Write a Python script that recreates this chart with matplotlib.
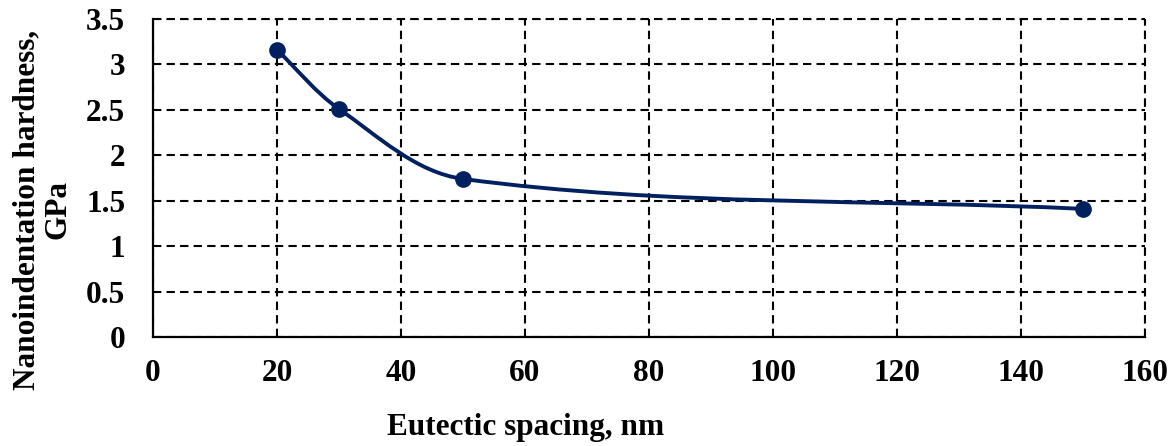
import numpy as np
import matplotlib.pyplot as plt
from matplotlib.path import Path
from matplotlib.patches import PathPatch

# data
spacing = [20, 30, 50, 150]
hardness = [3.16, 2.51, 1.74, 1.41]

x_ticks = [0, 20, 40, 60, 80, 100, 120, 140, 160]
y_ticks = [0, 0.5, 1, 1.5, 2, 2.5, 3, 3.5]
y_labels = ['0', '0.5', '1', '1.5', '2', '2.5', '3', '3.5']

navy = '#002060'
plt.rcParams['font.family'] = ['Liberation Serif', 'DejaVu Serif']
plt.rcParams['font.weight'] = 'bold'
fs = 22.5


def smooth_path(ax, xs, ys):
    # Excel-like smoothed line: cubic Bezier segments, built in screen space
    pts = ax.transData.transform(np.column_stack([xs, ys]))
    n = len(pts)
    verts = [pts[0]]
    codes = [Path.MOVETO]
    for i in range(n - 1):
        p0, p1 = pts[max(i - 1, 0)], pts[i]
        p2, p3 = pts[i + 1], pts[min(i + 2, n - 1)]
        seg = np.linalg.norm(p2 - p1)
        t1 = (p2 - p0) / np.linalg.norm(p2 - p0)
        t2 = (p3 - p1) / np.linalg.norm(p3 - p1)
        verts += [p1 + t1 * seg / 3, p2 - t2 * seg / 3, p2]
        codes += [Path.CURVE4] * 3
    verts = ax.transData.inverted().transform(np.array(verts))
    return Path(verts, codes)


fig = plt.figure(figsize=(11.73, 4.46), dpi=100)
ax = fig.add_axes([153 / 1173, 1 - 337 / 446, (1145 - 153) / 1173, (337 - 19) / 446])
ax.set_xlim(0, 160)
ax.set_ylim(0, 3.5)

ax.add_patch(PathPatch(smooth_path(ax, spacing, hardness), fill=False, edgecolor=navy,
                       linewidth=2.8, zorder=3))
ax.plot(spacing, hardness, linestyle='none', marker='o', markersize=11,
        color=navy, zorder=4)

ax.set_xticks(x_ticks)
ax.set_yticks(y_ticks)
ax.set_yticklabels(y_labels)
dash = (0, (4, 2.5))
ax.grid(True, color='black', linestyle=dash, linewidth=1.5)
ax.set_axisbelow(True)

ax.spines['top'].set_visible(False)
ax.spines['right'].set_visible(False)
ax.spines['left'].set_linewidth(1.6)
ax.spines['bottom'].set_linewidth(1.6)
# dashed border on top and right, as in the original
ax.axhline(3.5, color='black', linestyle=dash, linewidth=1.5, clip_on=False)
ax.axvline(160, color='black', linestyle=dash, linewidth=1.5, clip_on=False)

ax.tick_params(length=0, labelsize=fs)
ax.tick_params(axis='y', pad=20)
ax.tick_params(axis='x', pad=16)
for lbl in ax.get_xticklabels() + ax.get_yticklabels():
    lbl.set_fontweight('bold')

ax.set_xlabel('Eutectic spacing, nm', fontsize=fs, fontweight='bold', va='center')
ax.xaxis.set_label_coords(0.3755, -0.284)
ax.set_ylabel('Nanoindentation hardness,\nGPa', fontsize=fs, fontweight='bold',
              linespacing=1.1, ha='center', va='center', multialignment='center')
ax.yaxis.set_label_coords(-0.1114, 0.40)

fig.savefig('out.png', dpi=100)
